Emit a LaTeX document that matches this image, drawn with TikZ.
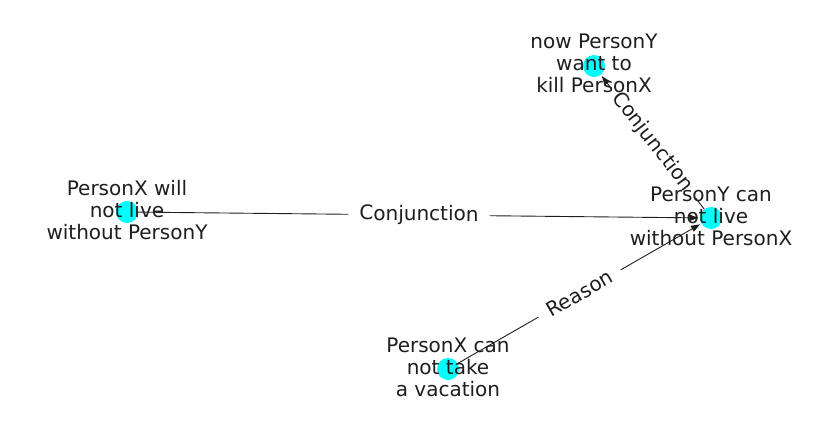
\documentclass[tikz,border=0pt]{standalone}
\usepackage{fontspec}
\setmainfont{DejaVu Sans}
\usetikzlibrary{arrows.meta}
\definecolor{nodecyan}{RGB}{0,255,255}
\definecolor{inkc}{RGB}{30,30,30}
\begin{document}
\begin{tikzpicture}[x=1pt,y=-1pt,
 dot/.style={circle,fill=nodecyan,minimum size=22pt,inner sep=0pt},
 txt/.style={font=\fontsize{20}{22}\selectfont,align=center,text=inkc,inner sep=0pt},
 edge/.style={draw=inkc,line width=0.9pt,-{Triangle[length=9pt,width=6.5pt]},shorten >=1.5pt},
 elabel/.style={fill=white,text=inkc,font=\fontsize{20}{22}\selectfont,inner xsep=11pt,inner ysep=2pt,sloped}]
\useasboundingbox (0,0) rectangle (837,434);
\node[dot] (a) at (594,66) {};
\node[dot] (b) at (127,212) {};
\node[dot] (c) at (711,218) {};
\node[dot] (d) at (448,369) {};
\draw[edge] (b) -- node[elabel]{Conjunction} (c);
\draw[edge] (d) -- node[elabel]{Reason} (c);
\draw[edge] (c) -- node[elabel]{Conjunction} (a);
\node[txt] (ta) at (594,63) {now PersonY\\want to\\kill PersonX};
\node[txt] (tb) at (127,210) {PersonX will\\not live\\without PersonY};
\node[txt] (tc) at (711,216) {PersonY can\\not live\\without PersonX};
\node[txt] (td) at (448,367) {PersonX can\\not take\\a vacation};
\end{tikzpicture}
\end{document}
